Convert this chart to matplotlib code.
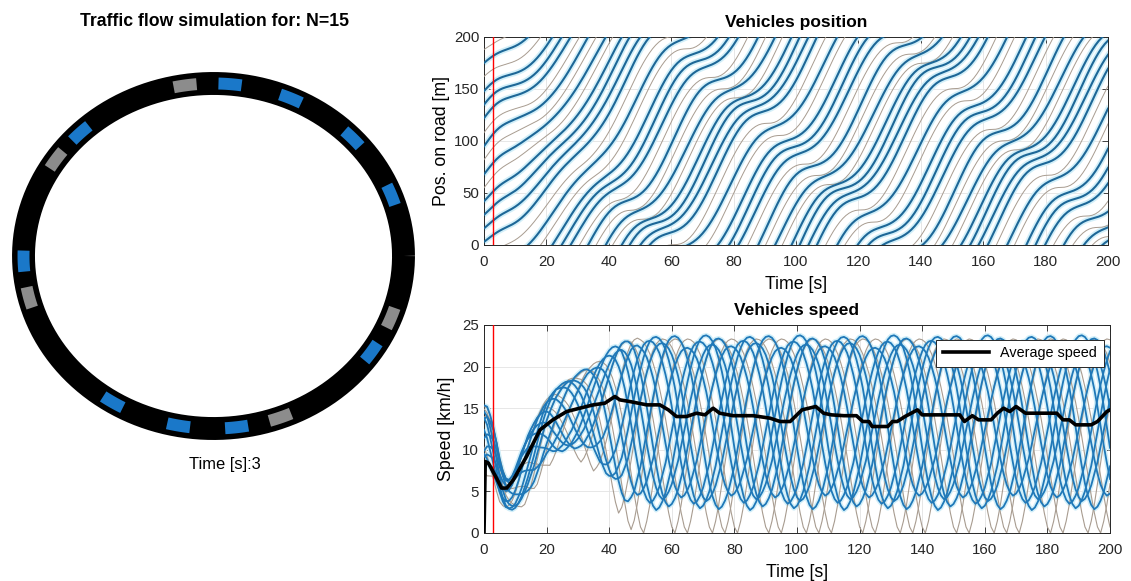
import numpy as np
import matplotlib.pyplot as plt

plt.rcParams['font.family'] = ['Liberation Sans', 'DejaVu Sans']

W, H = 1131, 581
N = 15
road_length = 200
current_time = 3

# ring snapshot at t = 3 s: angle of each car on the ring (deg, ccw from east)
car_angle_deg = [98.6, 85, 66, 43, 20.7, 339, 326.2, 290.6, 277, 259.4,
                 238, 193.9, 181.7, 146, 134.5]
car_is_gray = [1, 0, 0, 0, 0, 1, 0, 1, 0, 0, 0, 1, 0, 1, 0]

# vehicles, ordered by position on the road at t = 0
start_pos_m = [3, 16, 29, 42, 55, 68, 82, 95, 108, 122, 135, 148, 162, 175, 188]
veh_is_gray = [0, 0, 0, 0, 1, 0, 1, 0, 1, 0, 0, 0, 1, 0, 1]
# delay (s) with which each vehicle meets the stop-and-go wave
lag_s = [28, 26, 24, 22, 20, 18, 16, 14, 12, 10, 8, 6, 4, 2, 0]
phase_s = 29
# how strongly each vehicle swings compared with the typical cycle
veh_swing = [1.0, 0.92, 1.04, 0.96, 1.0, 0.88, 1.0, 1.03, 1.0, 0.94, 1.02,
             0.97, 1.0, 0.9, 1.0]

# one stop-and-go cycle (1 s steps, starts in the jam), km/h
cycle_blue = [3.0, 3.3, 4.0, 5.0, 6.5, 8.0, 10.0, 12.0, 14.0, 16.0, 17.8, 19.4,
              20.8, 21.9, 22.7, 23.1, 23.2, 23.0, 22.5, 21.7, 20.5, 19.0, 17.2,
              15.0, 12.6, 10.2, 8.0, 6.0, 4.5, 3.5]
cycle_gray = [0.0, 1.5, 3.5, 6.0, 8.5, 11.0, 13.5, 15.8, 17.8, 19.5, 20.9, 22.0,
              22.8, 23.2, 23.4, 23.3, 23.0, 22.4, 21.6, 20.5, 19.2, 17.6, 15.8,
              13.8, 11.6, 9.3, 6.9, 4.6, 2.5, 0.8]

# centre of the speed band during start-up (t = 0..50 s), km/h; later 14
band_early = [12.0, 11.8, 11.0, 10.0, 8.6, 7.0, 5.8, 5.0, 4.8, 5.0,
              5.5, 6.2, 7.0, 7.8, 8.6, 9.3, 10.0, 10.8, 11.5, 12.2,
              12.8, 13.2, 13.5, 13.8, 14.0, 14.2, 14.4, 14.6, 14.7, 14.8,
              14.9, 15.0, 15.1, 15.2, 15.2, 15.2, 15.2, 15.1, 15.0, 14.9,
              14.8, 14.7, 14.6, 14.5, 14.4, 14.3, 14.2, 14.2, 14.1, 14.1, 14.0]
band_late = 14.0
# share of the full oscillation reached during start-up (t = 0..48 s)
swing_early = [0.35, 0.35, 0.33, 0.30, 0.27, 0.23, 0.20, 0.18, 0.18, 0.20, 0.23,
               0.26, 0.29, 0.31, 0.33, 0.34, 0.35, 0.35, 0.35, 0.35, 0.35, 0.36,
               0.37, 0.38, 0.38, 0.39, 0.40, 0.41, 0.42, 0.43, 0.44, 0.46, 0.48,
               0.50, 0.52, 0.55, 0.58, 0.62, 0.66, 0.70, 0.74, 0.78, 0.82, 0.86,
               0.90, 0.93, 0.96, 0.98, 1.0]

# average speed (black line)
avg_t = [0, 0.4, 1.4, 4, 5.6, 7.3, 9.4, 13.6, 17.9, 22, 26.4, 30.6, 34.9, 38.6,
         41.8, 43.4, 46.6, 52, 56.2, 58.9, 61.5, 64.7, 67.9, 70.6, 73.2, 75.3,
         79.6, 86, 91.4, 94.6, 97.8, 101.6, 106, 108.5, 111, 115, 119, 121, 123,
         124, 129, 130.5, 132, 134.5, 138.5, 140, 146, 152, 153.5, 156, 158, 162,
         164, 166, 168, 170, 173, 178, 183, 185, 187, 189, 194, 196, 199, 200]
avg_kmh = [0, 8.6, 8.4, 6.6, 5.4, 5.4, 6.4, 9.2, 12.4, 13.6, 14.6, 15.0, 15.4,
           15.6, 16.4, 16.0, 15.8, 15.4, 15.4, 14.8, 14.0, 14.0, 14.4, 14.2, 15.0,
           14.4, 14.1, 14.1, 13.8, 13.4, 13.4, 14.8, 15.2, 14.4, 14.2, 14.1, 14.1,
           13.4, 13.4, 12.8, 12.8, 13.4, 13.4, 14.0, 14.8, 14.2, 14.2, 14.2, 13.4,
           14.1, 13.6, 13.6, 14.4, 15.0, 14.6, 15.2, 14.4, 14.4, 14.4, 13.6, 13.6,
           13.0, 13.0, 13.4, 14.6, 14.8]

blue_pos = '#1d6797'
blue_spd = '#1f78b8'
gray_line = '#a89c90'
halo = '#d2eff9'

# build each vehicle's trace from the pieces above
t = np.arange(0, 201)
band = np.concatenate([band_early, np.full(len(t) - len(band_early), band_late)])
swing = np.concatenate([swing_early, np.ones(len(t) - len(swing_early))])
speeds, positions = [], []
for k in range(N):
    cyc = np.array(cycle_gray if veh_is_gray[k] else cycle_blue)
    idx = (t - lag_s[k] + phase_s) % len(cyc)
    v = band + swing * veh_swing[k] * (cyc[idx] - cyc.mean())
    v = np.maximum(v, 0)
    dist = np.concatenate([[0], np.cumsum((v[:-1] + v[1:]) / 2)]) / 3.6
    speeds.append(v)
    positions.append(start_pos_m[k] + dist)

fig = plt.figure(figsize=(W / 100, H / 100), dpi=100)

# ---- ring road ----
ax_ring = fig.add_axes([4.5 / W, 1 - 454.4 / H, 418 / W, 396.8 / H])
th = np.linspace(0, 2 * np.pi, 500)
ax_ring.plot(np.cos(th), np.sin(th), color='black', lw=16.5, solid_capstyle='butt')
for a, g in zip(car_angle_deg, car_is_gray):
    ca = np.radians(np.linspace(a - 3.5, a + 3.5, 12))
    ax_ring.plot(np.cos(ca), np.sin(ca), lw=8.6, solid_capstyle='butt',
                 color='#8c8c8c' if g else '#1a78c9')
ax_ring.set_xlim(-1.1, 1.1)
ax_ring.set_ylim(-1.15, 1.15)
ax_ring.axis('off')
fig.text(214 / W, 1 - 21 / H, f'Traffic flow simulation for: N={N}',
         ha='center', va='center', fontsize=12.7, fontweight='bold')
fig.text(225 / W, 1 - 465 / H, f'Time [s]:{current_time}',
         ha='center', va='center', fontsize=11.9)


def style(ax):
    ax.set_xlim(0, 200)
    ax.set_xticks(np.arange(0, 201, 20))
    ax.grid(True, color='#e3e3e3', lw=0.6)
    ax.set_axisbelow(True)
    ax.tick_params(direction='in', length=4, width=0.6, top=True, right=True,
                   colors='#262626', labelsize=10.8)
    ax.tick_params(axis='x', pad=7.5)
    for s in ax.spines.values():
        s.set_color('#262626')
        s.set_linewidth(0.7)


# ---- positions ----
ax_pos = fig.add_axes([484 / W, 1 - 245 / H, 624 / W, 208 / H])
for k in range(N):
    for lap in range(6):
        y = positions[k] - road_length * lap
        if veh_is_gray[k]:
            ax_pos.plot(t, y, color=gray_line, lw=0.7, zorder=3)
        else:
            ax_pos.plot(t, y, color=halo, lw=4.0, zorder=2)
            ax_pos.plot(t, y, color=blue_pos, lw=1.5, zorder=4)
ax_pos.axvline(current_time, color='red', lw=1, zorder=5)
style(ax_pos)
ax_pos.set_ylim(0, road_length)
ax_pos.set_yticks(np.arange(0, 201, 50))
ax_pos.set_xlabel('Time [s]', fontsize=12.8, labelpad=5)
ax_pos.set_ylabel('Pos. on road [m]', fontsize=12.8, labelpad=3)
fig.text(796 / W, 1 - 22 / H, 'Vehicles position', ha='center', va='center',
         fontsize=12.5, fontweight='bold')

# ---- speeds ----
ax_spd = fig.add_axes([484 / W, 1 - 533 / H, 626 / W, 208 / H])
for k in range(N):
    if not veh_is_gray[k]:
        ax_spd.plot(t, speeds[k], color=halo, lw=3.5, zorder=2)
for k in range(N):
    if veh_is_gray[k]:
        ax_spd.plot(t, speeds[k], color=gray_line, lw=0.8, zorder=3)
    else:
        ax_spd.plot(t, speeds[k], color=blue_spd, lw=1.3, zorder=4)
ax_spd.axvline(current_time, color='red', lw=1, zorder=5)
ax_spd.plot(avg_t, avg_kmh, color='black', lw=2.6, zorder=6, label='Average speed')
style(ax_spd)
ax_spd.set_ylim(0, 25)
ax_spd.set_yticks(np.arange(0, 26, 5))
ax_spd.set_xlabel('Time [s]', fontsize=12.8, labelpad=5)
ax_spd.set_ylabel('Speed [km/h]', fontsize=12.8, labelpad=5)
leg = ax_spd.legend(loc='upper right', bbox_to_anchor=(0.99, 0.93), fontsize=10.4,
                    fancybox=False, framealpha=1, edgecolor='#262626',
                    borderaxespad=0, handlelength=3.2, borderpad=0.45)
leg.get_frame().set_linewidth(0.7)
leg.set_zorder(10)
fig.text(796 / W, 1 - 310 / H, 'Vehicles speed', ha='center', va='center',
         fontsize=12.5, fontweight='bold')

fig.savefig('out.png', dpi=100)
